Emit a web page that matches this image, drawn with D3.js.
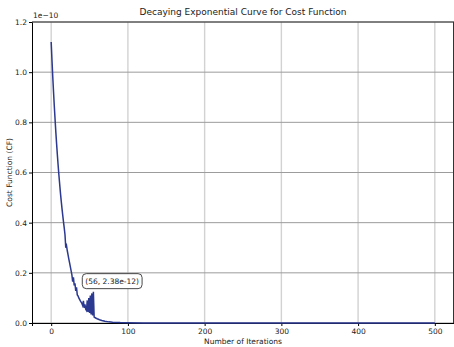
<!DOCTYPE html>
<html>
<head>
<meta charset="utf-8">
<script src="https://cdn.jsdelivr.net/npm/d3@7"></script>
<style>
  body { margin: 0; background: #fff; }
  text { font-family: "DejaVu Sans", sans-serif; fill: #222; }
</style>
</head>
<body>
<script>
// cost values in units of 1e-10
const iterations = [0, 1, 2, 3, 4, 5, 6, 7, 8, 9, 10, 11, 12, 13, 14, 15, 16, 17, 18, 19,
  20, 21, 22, 23, 24, 25, 26, 27, 28, 29, 30, 31, 32, 33, 34, 35, 36, 37, 38, 39,
  40, 41, 42, 43, 44, 45, 46, 47, 48, 49, 50, 51, 52, 53, 54, 55, 56, 58, 60, 63,
  66, 70, 75, 80, 90, 100, 120, 150, 200, 300, 400, 500]
const costs = [1.12, 1.05, 0.985, 0.925, 0.868, 0.815, 0.764, 0.717, 0.673, 0.631,
  0.592, 0.556, 0.521, 0.489, 0.459, 0.431, 0.404, 0.379, 0.352, 0.300,
  0.308, 0.288, 0.272, 0.255, 0.240, 0.224, 0.208, 0.192, 0.165, 0.182,
  0.150, 0.158, 0.128, 0.142, 0.112, 0.108, 0.100, 0.094, 0.088, 0.083,
  0.078, 0.070, 0.088, 0.060, 0.074, 0.055, 0.050, 0.090, 0.044, 0.100,
  0.040, 0.110, 0.034, 0.118, 0.030, 0.124, 0.0238, 0.020, 0.017, 0.013,
  0.010, 0.007, 0.0045, 0.003, 0.0015, 0.0008, 0.0003, 0.0001, 0.00003, 0, 0, 0]
const xTicks = [0, 100, 200, 300, 400, 500]
const yTicks = [0.0, 0.2, 0.4, 0.6, 0.8, 1.0, 1.2]
const annotation = { iter: 56, cost: 0.0238, label: '(56, 2.38e-12)' }

const W = 454, H = 347
const margin = { top: 22, right: 0, bottom: 24, left: 32 }

const svg = d3.select('body').append('svg')
  .attr('width', W).attr('height', H)

const x = d3.scaleLinear().domain([-25, 525]).range([margin.left, W - margin.right])
const y = d3.scaleLinear().domain([0, 1.2]).range([H - margin.bottom, margin.top])

// grid
svg.append('g').selectAll('line').data(xTicks).enter().append('line')
  .attr('x1', d => x(d)).attr('x2', d => x(d))
  .attr('y1', y(0)).attr('y2', y(1.2))
  .attr('stroke', '#d2d2d2').attr('stroke-width', 1.4)
svg.append('g').selectAll('line').data(yTicks).enter().append('line')
  .attr('x1', x(-25)).attr('x2', x(525))
  .attr('y1', d => y(d)).attr('y2', d => y(d))
  .attr('stroke', '#9c9c9c').attr('stroke-width', 1)

// axes
const xAxis = d3.axisBottom(x).tickValues(xTicks).tickSize(3).tickPadding(3)
const yAxis = d3.axisLeft(y).tickValues(yTicks).tickSize(3).tickPadding(2).tickFormat(d3.format('.1f'))

svg.append('g').attr('transform', `translate(0,${y(0)})`).call(xAxis)
  .call(g => g.selectAll('text').attr('font-size', 7.5).style('font-family', 'DejaVu Sans'))
svg.append('g').attr('transform', `translate(${margin.left},0)`).call(yAxis)
  .call(g => g.selectAll('text').attr('font-size', 7.5).style('font-family', 'DejaVu Sans'))

// top / right spines
svg.append('line').attr('x1', x(-25)).attr('x2', x(525)).attr('y1', y(1.2)).attr('y2', y(1.2))
  .attr('stroke', '#333').attr('stroke-width', 1)
svg.append('line').attr('x1', x(525) - 0.5).attr('x2', x(525) - 0.5).attr('y1', y(1.2)).attr('y2', y(0))
  .attr('stroke', '#333').attr('stroke-width', 1)

// curve
const line = d3.line().x((d, i) => x(iterations[i])).y(d => y(d))
svg.append('path').datum(costs)
  .attr('d', line)
  .attr('fill', 'none')
  .attr('stroke', '#2b3990')
  .attr('stroke-width', 1.5)
  .attr('stroke-linejoin', 'miter')

// annotation
const ax = x(annotation.iter) + 18, ay = y(annotation.cost) - 36
const ann = svg.append('g').attr('transform', `translate(${ax},${ay})`)
const annText = ann.append('text')
  .attr('text-anchor', 'middle').attr('dy', '0.35em')
  .attr('font-size', 7.5).text(annotation.label)
const bb = annText.node().getBBox()
ann.insert('rect', 'text')
  .attr('x', bb.x - 3).attr('y', bb.y - 3)
  .attr('width', bb.width + 6).attr('height', bb.height + 6)
  .attr('rx', 4).attr('fill', '#fff').attr('stroke', '#333').attr('stroke-width', 0.9)

// labels
svg.append('text').attr('x', (x(-25) + x(525)) / 2).attr('y', 15)
  .attr('text-anchor', 'middle').attr('font-size', 9)
  .text('Decaying Exponential Curve for Cost Function')
svg.append('text').attr('x', (x(-25) + x(525)) / 2).attr('y', 344)
  .attr('text-anchor', 'middle').attr('font-size', 7.5)
  .text('Number of Iterations')
svg.append('text')
  .attr('transform', `translate(12,${(y(0) + y(1.2)) / 2}) rotate(-90)`)
  .attr('text-anchor', 'middle').attr('font-size', 7.5)
  .text('Cost Function (CF)')
svg.append('text').attr('x', margin.left + 1).attr('y', 18)
  .attr('font-size', 7.5).text('1e\u221210')
</script>
</body>
</html>
